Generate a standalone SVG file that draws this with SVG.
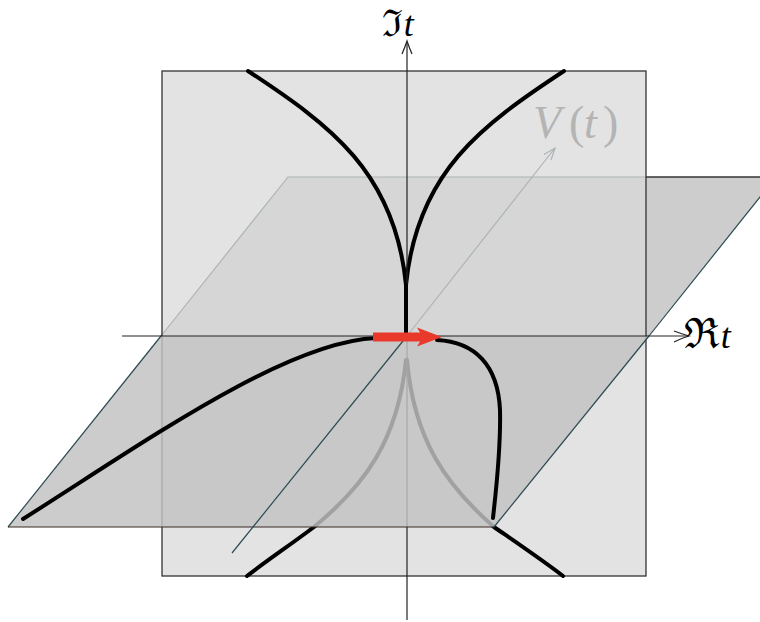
<svg xmlns="http://www.w3.org/2000/svg" width="760" height="622" viewBox="0 0 760 622">
<defs>
<style>
.edge{fill:none;stroke:#2c4a52;stroke-width:1.2}
.axis{fill:none;stroke:#222;stroke-width:1.2}
.thick{fill:none;stroke:#000;stroke-width:4;stroke-linecap:round}
.math{font-family:"Liberation Serif","DejaVu Serif",serif;font-style:italic;font-size:36px}
.frak{font-family:"DejaVu Serif","Noto Sans",serif;font-style:normal;font-size:42px}
.frak-top{font-family:"DejaVu Serif","Noto Sans",serif;font-style:normal;font-size:37px}
</style>
</defs>
<rect width="760" height="622" fill="#fff"/>
<g id="plane-back">
<polygon points="161,336 288,177 776,177 649,336" fill="#cdcdcd"/>
<polyline class="edge" points="161,336 288,177 776,177"/>
<line class="edge" x1="649" y1="336" x2="776" y2="177"/>
<line x1="646" y1="177" x2="760" y2="177" stroke="#3a2a24" stroke-width="1.2"/>
</g>
<g id="v-axis-back">
<line class="edge" x1="407" y1="336" x2="555" y2="148"/>
<path class="edge" d="M544,154.5 L555,148 L551,160"/>
</g>
<g id="square">
<rect x="162" y="71" width="484" height="505" fill="#d9d9d9" fill-opacity="0.74" stroke="#333" stroke-width="1.3"/>
</g>
<g id="curves-back">
<path class="thick" d="M248,71 C330,125 395,172 406,285"/>
<path class="thick" d="M564,71 C482,125 417,172 406,285"/>
<path class="thick" d="M247,576 C265,562 290,545 314,527 C365,485 398,440 406,360"/>
<path class="thick" d="M563,576 C545,562 520,545 494,527 C446,485 414,440 407,360"/>
</g>
<g id="v-axis-vertical">
<line class="axis" x1="407" y1="620" x2="407" y2="42"/>
<path class="axis" d="M402,54 Q405,47 407,41 Q409,47 412,54"/>
</g>
<g id="plane-front">
<polygon points="8,527 161,336 649,336 494,527" fill="#c2c2c2" fill-opacity="0.83"/>
<line class="edge" x1="8" y1="527" x2="161" y2="336"/>
<line class="edge" x1="494" y1="527" x2="649" y2="336"/>
<line x1="8" y1="527" x2="494" y2="527" stroke="#3a2a24" stroke-width="1.2"/>
</g>
<g id="curves-front">
<line class="thick" x1="406" y1="285" x2="406" y2="336"/>
<path class="thick" d="M23,519 C145,442 285,342 376,338"/>
<path class="thick" d="M437,340 C475,342 498,365 500,410 C501,450 496,490 493,518"/>
</g>
<g id="v-axis-front">
<line class="edge" x1="232" y1="553" x2="407" y2="336"/>
</g>
<g id="axis-horizontal">
<line class="axis" x1="122" y1="336" x2="688" y2="336"/>
<path class="axis" d="M674,331 Q682,334 689,336 Q682,338 674,342"/>
</g>
<g id="red-arrow">
<path d="M373,332.5 L420,332.5 L417,327.5 L442,337 L417,346.5 L420,341.5 L373,341.5 Z" fill="#e8392b"/>
</g>
<g id="labels">
<text x="382" y="36"><tspan class="frak-top">ℑ</tspan><tspan class="math" dx="1">t</tspan></text>
<text x="684" y="348"><tspan class="frak">ℜ</tspan><tspan class="math" dx="1">t</tspan></text>
<text y="138" font-size="46" fill="#b4b4b4" font-family="Liberation Serif, serif"><tspan x="533" font-style="italic">V</tspan><tspan x="569">(</tspan><tspan x="584" font-style="italic">t</tspan><tspan x="603">)</tspan></text>
</g>
</svg>
